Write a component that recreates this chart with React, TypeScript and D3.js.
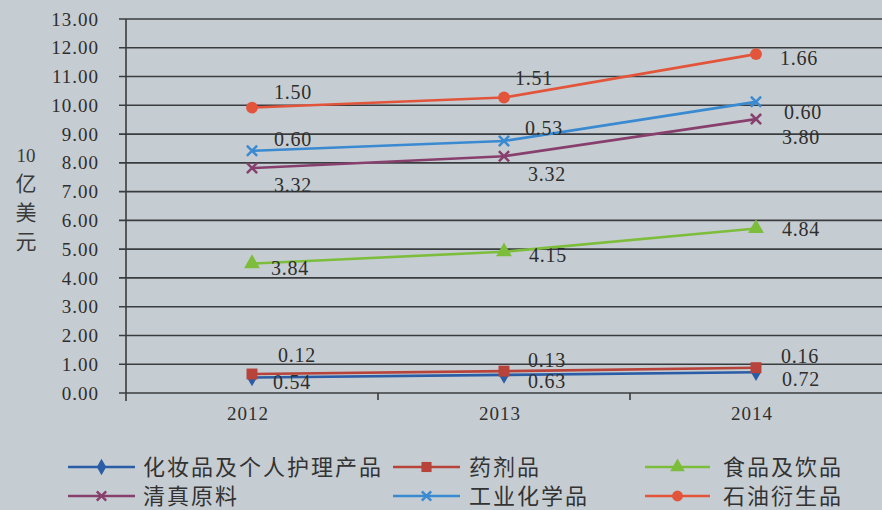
import React, { useEffect } from "react";
import * as d3 from "d3";

// values as printed next to each point (billion USD), lines are stacked
const years = ["2012", "2013", "2014"];
const cosmetics = [0.54, 0.63, 0.72];
const pharma = [0.12, 0.13, 0.16];
const food = [3.84, 4.15, 4.84];
const halal = [3.32, 3.32, 3.8];
const industrial = [0.6, 0.53, 0.6];
const petroleum = [1.5, 1.51, 1.66];
const seriesKeys = ["cosmetics", "pharma", "food", "halal", "industrial", "petroleum"];
const seriesNames = ["化妆品及个人护理产品", "药剂品", "食品及饮品", "清真原料", "工业化学品", "石油衍生品"];
const yTickValues = [0, 1, 2, 3, 4, 5, 6, 7, 8, 9, 10, 11, 12, 13];
const yTitle = ["10", "亿", "美", "元"];

const colors: Record<string, string> = {
  cosmetics: "#2b5ca6",
  pharma: "#b8433a",
  food: "#7dbd3c",
  halal: "#87406e",
  industrial: "#3a8ad2",
  petroleum: "#e2553b",
};
const symbols: Record<string, any> = {
  cosmetics: d3.symbolDiamond,
  pharma: d3.symbolSquare,
  food: d3.symbolTriangle,
  halal: d3.symbolTimes,
  industrial: d3.symbolTimes,
  petroleum: d3.symbolCircle,
};
// label offsets from the marker, per series and year
const labelOffsets: Record<string, number[][]> = {
  cosmetics: [[40, 5], [43, 6], [45, 7]],
  pharma: [[45, -19], [43, -11], [44, -12]],
  food: [[38, 4], [44, 3], [45, 1]],
  halal: [[41, 17], [43, 18], [45, 18]],
  industrial: [[41, -12], [40, -13], [47, 10]],
  petroleum: [[41, -16], [30, -20], [43, 4]],
};

const W = 882, H = 510;
const left = 126, right = 882, top = 19, bottom = 393;
const serif = "'Liberation Serif', 'Times New Roman', serif";
const cjk = "'Noto Sans CJK SC', sans-serif";

export default function App() {
  useEffect(() => {
    document.body.style.margin = "0";
  }, []);

  const rows = years.map((yr, i) => ({
    year: yr,
    cosmetics: cosmetics[i],
    pharma: pharma[i],
    food: food[i],
    halal: halal[i],
    industrial: industrial[i],
    petroleum: petroleum[i],
  }));
  const stacked = d3.stack<any>().keys(seriesKeys)(rows);

  const x = d3.scaleBand().domain(years).range([left, right]).padding(0);
  const y = d3.scaleLinear().domain([0, 13]).range([bottom, top]);
  const cx = (yr: string) => (x(yr) as number) + x.bandwidth() / 2;

  const line = d3
    .line<any>()
    .x((d) => cx(d.data.year))
    .y((d) => y(d[1]));

  const markerPath = (key: string, size: number) =>
    d3.symbol().type(symbols[key]).size(size)() as string;
  const markerSize: Record<string, number> = {
    cosmetics: 90, pharma: 120, food: 110, halal: 70, industrial: 70, petroleum: 110,
  };
  const isStroke = (k: string) => k === "halal" || k === "industrial";

  const legendCols = [
    { x1: 68, x2: 135, tx: 143 },
    { x1: 393, x2: 460, tx: 469 },
    { x1: 645, x2: 710, tx: 723 },
  ];
  const legendRows = [467, 496];

  const Marker = ({ k, tx, ty, scale = 1 }: any) => (
    <path
      d={markerPath(k, markerSize[k] * scale)}
      transform={`translate(${tx},${ty})`}
      fill={isStroke(k) ? "none" : colors[k]}
      stroke={colors[k]}
      strokeWidth={isStroke(k) ? 2.5 : 0}
    />
  );

  return (
    <svg width={W} height={H} style={{ display: "block", background: "#c6cdd2" }}>
      {/* gridlines */}
      {yTickValues.map((t) => (
        <line key={t} x1={left - 7} x2={right} y1={y(t)} y2={y(t)} stroke="#3a3d3f" strokeWidth={1.6} />
      ))}
      <line x1={left} x2={left} y1={top} y2={bottom + 8} stroke="#3a3d3f" strokeWidth={1.6} />
      {years.slice(1).map((yr) => (
        <line key={yr} x1={x(yr)} x2={x(yr)} y1={bottom} y2={bottom + 7} stroke="#3a3d3f" strokeWidth={1.6} />
      ))}
      {/* y tick labels */}
      {yTickValues.map((t) => (
        <text key={t} x={99} y={y(t)} dy="0.35em" textAnchor="end" fontFamily={serif} fontSize={19}
          letterSpacing={1} fill="#2e2e2e">
          {t.toFixed(2)}
        </text>
      ))}
      {/* x tick labels */}
      {years.map((yr) => (
        <text key={yr} x={cx(yr) - 4} y={420} textAnchor="middle" fontFamily={serif} fontSize={19}
          letterSpacing={1} fill="#2e2e2e">
          {yr}
        </text>
      ))}
      {/* y title */}
      {yTitle.map((s, i) => (
        <text key={s} x={26} y={155 + i * 29} dy="0.35em" textAnchor="middle"
          fontFamily={i === 0 ? serif : cjk} fontSize={i === 0 ? 19 : 21} fill="#3a3a3a">
          {s}
        </text>
      ))}
      {/* lines */}
      {stacked.map((s) => (
        <path key={s.key} d={line(s as any) as string} fill="none" stroke={colors[s.key]} strokeWidth={2.6} />
      ))}
      {stacked.map((s) =>
        s.map((d: any, i: number) => (
          <Marker key={s.key + i} k={s.key} tx={cx(d.data.year)} ty={y(d[1])} />
        ))
      )}
      {/* data labels */}
      {stacked.map((s) =>
        s.map((d: any, i: number) => (
          <text key={"l" + s.key + i} x={cx(d.data.year) + labelOffsets[s.key][i][0]}
            y={y(d[1]) + labelOffsets[s.key][i][1]} dy="0.35em" textAnchor="middle"
            fontFamily={serif} fontSize={20} letterSpacing={0.8} fill="#2e2e2e">
            {(d.data[s.key] as number).toFixed(2)}
          </text>
        ))
      )}
      {/* legend */}
      {seriesKeys.map((k, i) => {
        const c = legendCols[i % 3];
        const ry = legendRows[Math.floor(i / 3)];
        return (
          <g key={k}>
            <line x1={c.x1} x2={c.x2} y1={ry} y2={ry} stroke={colors[k]} strokeWidth={2.6} />
            <Marker k={k} tx={(c.x1 + c.x2) / 2} ty={ry} scale={0.85} />
            <text x={c.tx} y={ry} dy="0.36em" fontFamily={cjk} fontSize={22} letterSpacing={2} fill="#333">
              {seriesNames[i]}
            </text>
          </g>
        );
      })}
    </svg>
  );
}
